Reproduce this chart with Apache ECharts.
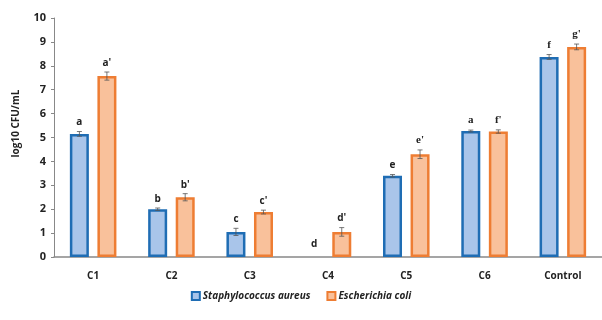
<!DOCTYPE html>
<html><head><meta charset="utf-8">
<script src="https://cdn.jsdelivr.net/npm/echarts@6/dist/echarts.min.js"></script>
<style>html,body{margin:0;padding:0;background:#fff}#c{width:602px;height:320px}</style>
</head><body><div id="c"></div>
<script>
const categories = ['C1','C2','C3','C4','C5','C6','Control'];
const saValues = [5.15, 2.0, 1.05, 0, 3.4, 5.27, 8.37];
const ecValues = [7.57, 2.5, 1.88, 1.05, 4.3, 5.25, 8.79];
const saErr = [0.1, 0.05, 0.15, 0, 0.05, 0.04, 0.1];
const ecErr = [0.17, 0.15, 0.08, 0.18, 0.18, 0.07, 0.12];
const saLetters = ['a','b','c','d','e','a','f'];
const ecLetters = ["a'","b'","c'","d'","e'","f'","g'"];
const yTicks = [0,1,2,3,4,5,6,7,8,9,10];
const seriesNames = ['Staphylococcus aureus','Escherichia coli'];

const chart = echarts.init(document.getElementById('c'), null, {renderer:'canvas'});
const BW = 19, GAP = 8.5, OFF = (BW + GAP) / 2;

function barData(vals) {
  return vals.map(v => v === 0 ? {value: v, itemStyle: {borderWidth: 0, opacity: 0}} : v);
}

function errSeries(vals, errs, letters, dx, serifFrom) {
  return {
    type: 'custom',
    z: 5,
    silent: true,
    data: vals.map((v, i) => [i, v, errs[i], letters[i]]),
    renderItem: function (params, api) {
      const i = api.value(0), v = api.value(1), e = api.value(2), t = api.value(3);
      const base = api.coord([i, v]);
      const x = base[0] + dx;
      const hi = api.coord([i, v + e])[1];
      const lo = api.coord([i, v - e])[1];
      const children = [];
      if (e > 0) {
        const st = {stroke: '#555', lineWidth: 0.8};
        children.push({type:'line', shape:{x1:x, y1:hi, x2:x, y2:lo}, style:st});
        children.push({type:'line', shape:{x1:x-2.5, y1:hi, x2:x+2.5, y2:hi}, style:st});
        children.push({type:'line', shape:{x1:x-2.5, y1:lo, x2:x+2.5, y2:lo}, style:st});
      }
      const serif = i >= serifFrom;
      children.push({type:'text', style:{
        text: t, x: x, y: (e > 0 ? hi : base[1]) - (v === 0 ? 8 : 4),
        align: 'center', verticalAlign: 'bottom',
        font: 'bold ' + (serif ? '11px "Liberation Serif"' : '10px "Open Sans"'),
        fill: '#222'
      }});
      return {type:'group', children: children};
    }
  };
}

chart.setOption({
  animation: false,
  grid: {left: 54, right: 0, top: 18, bottom: 63, containLabel: false},
  legend: {
    bottom: 14, left: 'center', itemWidth: 8, itemHeight: 8, itemGap: 16,
    icon: 'rect',
    textStyle: {fontFamily: 'Open Sans', fontStyle: 'italic', fontWeight: 'bold', fontSize: 10, color: '#222', padding:[0,0,0,-2]},
    data: seriesNames
  },
  xAxis: {
    type: 'category', data: categories,
    axisLine: {lineStyle: {color: '#888', width: 1.5}},
    axisTick: {show: false},
    axisLabel: {fontFamily: 'Open Sans', fontWeight: 'bold', fontSize: 10, color: '#222', margin: 14}
  },
  yAxis: {
    type: 'value', min: 0, max: 10, interval: 1,
    name: 'log10 CFU/mL', nameLocation: 'middle', nameGap: 33, nameRotate: 90,
    nameTextStyle: {fontFamily: 'Open Sans', fontWeight: 'bold', fontSize: 10, color: '#222', padding: [0, 0, 0, 28]},
    axisLine: {show: true, lineStyle: {color: '#888', width: 1}},
    axisTick: {show: true, length: 3, inside: false, lineStyle: {color: '#888'}},
    splitLine: {show: false},
    axisLabel: {fontFamily: 'Open Sans', fontWeight: 'bold', fontSize: 11, color: '#222', margin: 8,
      formatter: v => yTicks.includes(v) ? String(v) : ''}
  },
  series: [
    {name: seriesNames[0], type: 'bar', data: barData(saValues), barWidth: BW, barGap: '45%',
     itemStyle: {color: '#a9c5ea', borderColor: '#1f6db4', borderWidth: 2.5}},
    {name: seriesNames[1], type: 'bar', data: barData(ecValues), barWidth: BW,
     itemStyle: {color: '#f9c19b', borderColor: '#ee7d33', borderWidth: 2.5}},
    errSeries(saValues, saErr, saLetters, -OFF, 5),
    errSeries(ecValues, ecErr, ecLetters, OFF, 4)
  ]
});
</script>
</body></html>
